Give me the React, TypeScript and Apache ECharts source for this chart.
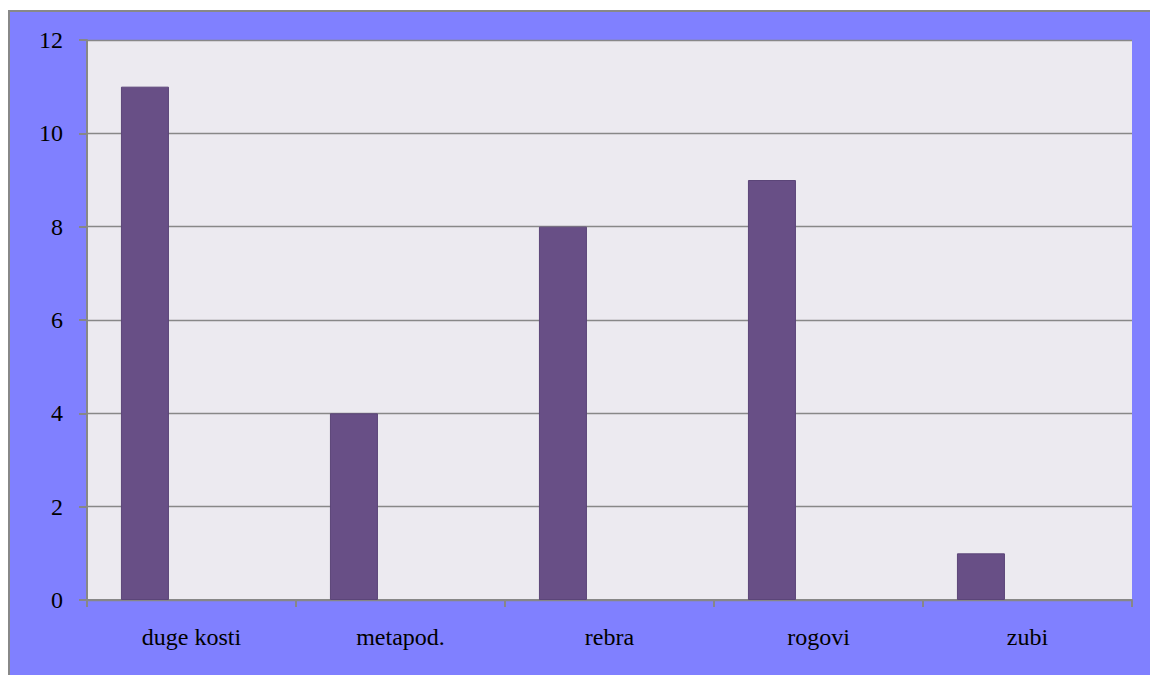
import React, { useEffect, useRef } from "react";
import * as echarts from "echarts";

const categories = ["duge kosti", "metapod.", "rebra", "rogovi", "zubi"];
const values = [11, 4, 8, 9, 1];
const emptySeries = [0, 0, 0, 0, 0];
const yTicks = [0, 2, 4, 6, 8, 10, 12];

export default function App() {
  const ref = useRef<HTMLDivElement>(null);
  useEffect(() => {
    if (!ref.current) return;
    const chart = echarts.init(ref.current, null, { renderer: "svg" });
    const font = "'Liberation Serif', 'DejaVu Serif', serif";
    chart.setOption({
      animation: false,
      backgroundColor: "#ffffff",
      graphic: [
        {
          type: "rect",
          z: -10,
          silent: true,
          shape: { x: 9, y: 11, width: 1141, height: 664 },
          style: { fill: "#8080FF" },
        },
        {
          type: "line",
          z: -9,
          silent: true,
          shape: { x1: 9, y1: 11, x2: 1150, y2: 11 },
          style: { stroke: "#888888", lineWidth: 2 },
        },
        {
          type: "line",
          z: -9,
          silent: true,
          shape: { x1: 9, y1: 10, x2: 9, y2: 675 },
          style: { stroke: "#888888", lineWidth: 2 },
        },
      ],
      grid: {
        left: 87,
        top: 40,
        right: 18,
        bottom: 75,
        show: true,
        backgroundColor: "#ECEAF0",
        borderWidth: 0,
      },
      xAxis: {
        type: "category",
        data: categories,
        axisLine: { lineStyle: { color: "#878787", width: 2 } },
        axisTick: { show: true, length: 7, lineStyle: { color: "#878787", width: 2 } },
        axisLabel: { color: "#000000", fontFamily: font, fontSize: 24, margin: 25 },
      },
      yAxis: {
        type: "value",
        min: yTicks[0],
        max: yTicks[yTicks.length - 1],
        interval: 2,
        axisLine: { show: true, lineStyle: { color: "#878787", width: 2 } },
        axisTick: { show: true, length: 8, lineStyle: { color: "#878787", width: 2 } },
        axisLabel: { color: "#000000", fontFamily: font, fontSize: 24, margin: 24 },
        splitLine: { show: true, lineStyle: { color: "#888888", width: 1.3 } },
      },
      series: [
        {
          type: "bar",
          data: values,
          barWidth: 48,
          barGap: "94%",
          itemStyle: { color: "#684F86", borderColor: "#5B4578", borderWidth: 1 },
        },
        {
          type: "bar",
          data: emptySeries,
          barWidth: 48,
          itemStyle: { color: "rgba(0,0,0,0)" },
        },
      ],
    });
    return () => chart.dispose();
  }, []);
  return (
    <div
      ref={ref}
      style={{ position: "fixed", left: 0, top: 0, width: 1150, height: 675 }}
    />
  );
}
